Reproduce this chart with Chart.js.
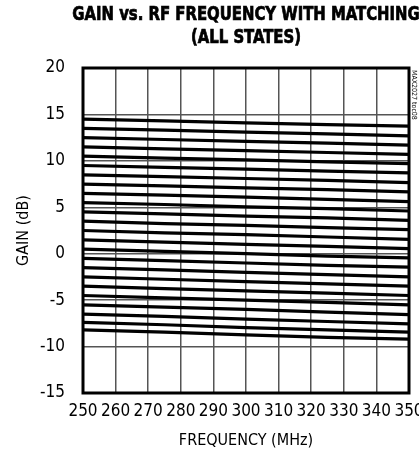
<!DOCTYPE html>
<html>
<head>
<meta charset="utf-8">
<script src="https://cdn.jsdelivr.net/npm/chart.js@4"></script>
<style>
  html, body { margin: 0; padding: 0; background: #fff; }
  #wrap { width: 419px; height: 452px; }
</style>
</head>
<body>
<div id="wrap"><canvas id="gain"></canvas></div>
<script>
const FONT = "'Liberation Sans Narrow', 'Arial Narrow', 'DejaVu Sans Condensed', sans-serif";

// RF frequency (MHz) where the curves were read
const freqs = [250, 275, 300, 325, 350];

// gain (dB) for every attenuation state, top to bottom
const state00 = [14.5, 14.3, 14.1, 13.9, 13.75];
const state01 = [13.5, 13.3, 13.1, 12.9, 12.7];
const state02 = [12.5, 12.3, 12.1, 11.9, 11.7];
const state03 = [11.5, 11.3, 11.1, 10.9, 10.7];
const state04 = [10.5, 10.3, 10.1, 9.9, 9.7];
const state05 = [9.5, 9.3, 9.1, 8.9, 8.7];
const state06 = [8.5, 8.3, 8.1, 7.9, 7.65];
const state07 = [7.5, 7.3, 7.1, 6.9, 6.65];
const state08 = [6.5, 6.3, 6.1, 5.85, 5.6];
const state09 = [5.5, 5.3, 5.05, 4.85, 4.6];
const state10 = [4.5, 4.3, 4.05, 3.85, 3.6];
const state11 = [3.5, 3.25, 3.05, 2.8, 2.6];
const state12 = [2.5, 2.25, 2.05, 1.8, 1.55];
const state13 = [1.5, 1.25, 1.0, 0.8, 0.55];
const state14 = [0.5, 0.25, 0.0, -0.25, -0.45];
const state15 = [-0.5, -0.75, -1.0, -1.25, -1.45];
const state16 = [-1.5, -1.75, -2.0, -2.25, -2.5];
const state17 = [-2.5, -2.75, -3.0, -3.25, -3.5];
const state18 = [-3.5, -3.75, -4.0, -4.25, -4.5];
const state19 = [-4.5, -4.75, -5.0, -5.25, -5.5];
const state20 = [-5.5, -5.75, -6.0, -6.3, -6.55];
const state21 = [-6.5, -6.75, -7.05, -7.3, -7.55];
const state22 = [-7.4, -7.65, -7.95, -8.2, -8.45];
const state23 = [-8.2, -8.45, -8.75, -9.0, -9.2];

const states = [
  state00, state01, state02, state03, state04, state05, state06, state07,
  state08, state09, state10, state11, state12, state13, state14, state15,
  state16, state17, state18, state19, state20, state21, state22, state23,
];

const titleLines = ["GAIN vs. RF FREQUENCY WITH MATCHING", "(ALL STATES)"];
const xTitle = "FREQUENCY (MHz)";
const yTitle = "GAIN (dB)";
const tocLabel = "MAX2027 toc08";

// heading over the plot (not squeezed to the plot width like the built-in title),
// full box round the plot and the small rotated figure tag on the right
const decor = {
  id: "decor",
  afterDraw(chart) {
    const { ctx, chartArea: a } = chart;
    const cx = (a.left + a.right) / 2;
    ctx.save();
    ctx.fillStyle = "#000";
    ctx.strokeStyle = "#000";
    ctx.lineWidth = 0.7;
    ctx.textAlign = "center";
    ctx.textBaseline = "middle";
    ctx.font = "bold 19px " + FONT;
    ctx.translate(cx, 0);
    ctx.scale(0.87, 1); // condensed heading face
    titleLines.forEach((t, i) => {
      ctx.fillText(t, 0, 15 + i * 23);
      ctx.strokeText(t, 0, 15 + i * 23);
    });
    ctx.restore();

    ctx.save();
    ctx.strokeStyle = "#000";
    ctx.lineWidth = 3;
    ctx.strokeRect(a.left, a.top, a.right - a.left, a.bottom - a.top);

    ctx.translate(a.right + 5, a.top + 2);
    ctx.rotate(Math.PI / 2);
    ctx.fillStyle = "#000";
    ctx.textBaseline = "middle";
    ctx.font = "7px " + FONT;
    ctx.fillText(tocLabel, 0, 0);
    ctx.restore();
  },
};

new Chart(document.getElementById("gain"), {
  type: "line",
  data: {
    datasets: states.map((vals, i) => ({
      label: "state " + i,
      data: vals.map((g, j) => ({ x: freqs[j], y: g })),
      borderColor: "#000",
      borderWidth: 3.2,
      pointRadius: 0,
      tension: 0,
    })),
  },
  options: {
    responsive: true,
    maintainAspectRatio: false,
    animation: false,
    layout: { padding: { left: 0, right: 10, top: 68, bottom: 0 } },
    plugins: {
      legend: { display: false },
      tooltip: { enabled: false },
      title: { display: false },
    },
    scales: {
      x: {
        type: "linear",
        min: 250,
        max: 350,
        afterFit(s) {
          s.height = 59;
          s.paddingLeft = 0;
          s.paddingRight = 0;
        },
        ticks: {
          stepSize: 10,
          color: "#000",
          padding: 8,
          maxRotation: 0,
          font: { family: FONT, size: 17 },
        },
        grid: { color: "#555", lineWidth: 1.5, drawTicks: false },
        border: { display: false },
        title: {
          display: true,
          text: xTitle,
          color: "#000",
          font: { family: FONT, size: 16 },
          padding: { top: 0, bottom: 2 },
        },
      },
      y: {
        min: -15,
        max: 20,
        afterFit(s) {
          s.width = 83;
        },
        ticks: {
          stepSize: 5,
          color: "#000",
          padding: 18,
          font: { family: FONT, size: 17 },
        },
        grid: { color: "#555", lineWidth: 1.5, drawTicks: false },
        border: { display: false },
        title: {
          display: true,
          text: yTitle,
          color: "#000",
          font: { family: FONT, size: 16 },
          padding: { top: 14, bottom: 0 },
        },
      },
    },
  },
  plugins: [decor],
});
</script>
</body>
</html>
